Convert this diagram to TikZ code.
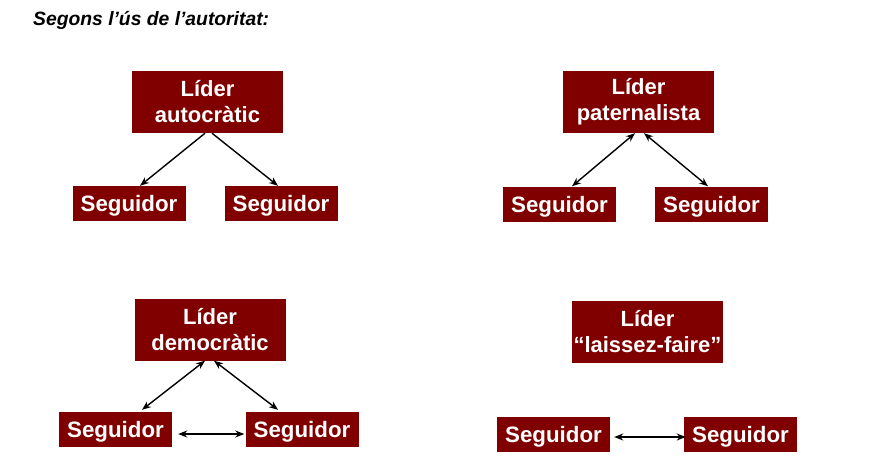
\documentclass[tikz,border=0pt]{standalone}
\usepackage{fontspec}
\setmainfont{Liberation Sans}
\usetikzlibrary{arrows.meta}
\definecolor{granat}{HTML}{800000}
\tikzset{
  lider/.style={fill=granat, text=white, align=center, inner sep=0pt,
    minimum width=151pt, minimum height=62pt,
    font=\fontsize{22}{26}\selectfont\bfseries},
  seguidor/.style={fill=granat, text=white, inner sep=0pt, text depth=0pt,
    minimum width=113pt, minimum height=35pt,
    font=\fontsize{22.3}{26}\selectfont\bfseries},
  fletxa/.style={-{Stealth[length=9pt, width=7pt]}, line width=1.4pt},
  doble/.style={{Stealth[length=9pt, width=7pt]}-{Stealth[length=9pt, width=7pt]}, line width=1.4pt}
}
\begin{document}
\begin{tikzpicture}[x=1pt, y=-1pt]

  \useasboundingbox (0,0) rectangle (883,463);

  % -- Title --
  \node[anchor=west, inner sep=0pt, font=\fontsize{19.3}{23}\selectfont\bfseries\itshape] (titol) at (33, 20) {Segons l’ús de l’autoritat:};

  % -- Autocratic leader --
  \node[lider] (aut) at (207.5, 102) {Líder\\autocràtic};
  \node[seguidor] (aut1) at (129, 203.5) {Seguidor};
  \node[seguidor] (aut2) at (281, 203.5) {Seguidor};
  \draw[fletxa] ([xshift=-2.5pt]aut.south) -- ([xshift=11pt]aut1.north);
  \draw[fletxa] ([xshift=4.5pt]aut.south) -- ([xshift=-3pt]aut2.north);

  % -- Paternalistic leader --
  \node[lider] (pat) at (638.5, 102) {Líder\\paternalista};
  \node[seguidor] (pat1) at (559.5, 204) {Seguidor};
  \node[seguidor] (pat2) at (711.5, 204) {Seguidor};
  \draw[doble] ([xshift=-3.5pt]pat.south) -- ([xshift=12.5pt]pat1.north);
  \draw[doble] ([xshift=5.5pt]pat.south) -- ([xshift=-3.5pt]pat2.north);

  % -- Democratic leader --
  \node[lider] (dem) at (210, 329.5) {Líder\\democràtic};
  \node[seguidor] (dem1) at (115.5, 429.5) {Seguidor};
  \node[seguidor] (dem2) at (302, 429.5) {Seguidor};
  \draw[doble] ([xshift=-5pt]dem.south) -- ([xshift=26.5pt, yshift=2pt]dem1.north);
  \draw[doble] ([xshift=4pt]dem.south) -- ([xshift=-24pt, yshift=2pt]dem2.north);
  \draw[doble] ([xshift=6pt, yshift=-4.5pt]dem1.east) -- ([xshift=-1pt, yshift=-4.5pt]dem2.west);

  % -- Laissez-faire leader --
  \node[lider] (lai) at (647.5, 332) {Líder\\“laissez-faire”};
  \node[seguidor] (lai1) at (553.5, 434) {Seguidor};
  \node[seguidor] (lai2) at (740.5, 434) {Seguidor};
  \draw[doble] ([xshift=4pt, yshift=-3pt]lai1.east) -- ([xshift=2pt, yshift=-3pt]lai2.west);

\end{tikzpicture}
\end{document}
